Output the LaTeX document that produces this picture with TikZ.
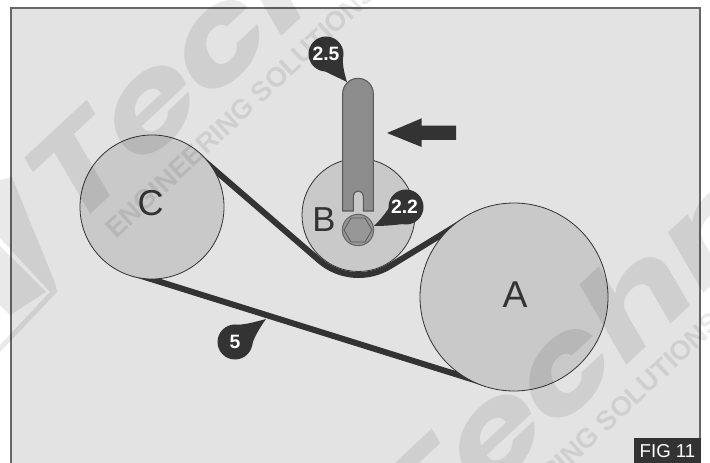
\documentclass[tikz,border=0pt]{standalone}
\usepackage{fontspec}
\setmainfont{Liberation Sans}
\newfontfamily\wmfont{Poppins}
\usetikzlibrary{calc}
\newcommand{\wmword}{\scalebox{1.28}[1]{Technical}}
\tikzset{
 pulley/.style={circle,draw=black!80,line width=0.6pt,fill=pulleygray,inner sep=0pt,text=darktext},
 belt/.style={draw=darktext,line width=4.5pt,line cap=butt},
 callout/.style={fill=darktext,draw=none},
 calltext/.style={text=white,font=\fontsize{14.5}{15}\selectfont\bfseries,inner sep=0pt},
 water/.style={black,opacity=0.085,inner sep=0pt,anchor=base west,rotate=43},
 wmbig/.style={water,font=\wmfont\fontsize{92}{92}\selectfont\bfseries\itshape},
 wmsmall/.style={water,font=\fontsize{20.5}{20.5}\selectfont\bfseries}
}
\definecolor{darktext}{HTML}{333333}
\definecolor{pulleygray}{HTML}{C9C9C9}
\definecolor{panel}{HTML}{E3E3E3}
\definecolor{levergray}{HTML}{8C8C8C}
\begin{document}
\begin{tikzpicture}[x=0.75pt,y=-0.75pt]
\useasboundingbox (0,0) rectangle (710,463);
\fill[white] (0,0) rectangle (710,463);
\fill[panel] (11,8.5) rectangle (700,470);
\draw[black!60,line width=1.5pt] (11,470) -- (11,8.5) -- (700,8.5) -- (700,470);
% belt
\coordinate (t1) at (197.1,154.8);
\coordinate (t2) at (319.3,260.4);
\coordinate (t3) at (389.8,266.2);
\coordinate (t4) at (466.6,219.3);
\coordinate (t5) at (131.4,272.9);
\coordinate (t6) at (486.9,383.9);
\path[belt] (t1) -- (t2) arc[start angle=130.84,end angle=58.6,radius=60] -- (t4);
\path[belt] (t5) -- (t6);
% pulleys
\node[pulley,minimum size=108pt] (pc) at (152,207) {};
\node[pulley,minimum size=141pt] (pa) at (514,297) {};
\node[pulley,minimum size=84.75pt] (pb) at (358.5,215) {};
\node[text=darktext,font=\fontsize{27}{27}\selectfont] (lc) at (150.5,203.5) {C};
\node[text=darktext,font=\fontsize{26}{26}\selectfont] (lb) at (324,220) {B};
\node[text=darktext,font=\fontsize{28}{28}\selectfont] (la) at (515,295) {A};
% lever
\draw[draw=black!65,line width=0.8pt,fill=levergray]
 (342.7,211) -- (342.7,93.6) arc[start angle=180,end angle=360,radius=15.3] -- (373.3,211) -- (363.3,211) -- (363.3,196) arc[start angle=0,end angle=-180,radius=5] -- (353.3,211) -- cycle;
% bolt
\node[circle,draw=black!60,line width=0.8pt,fill=levergray!90,minimum size=23.5pt,inner sep=0pt] (bolt) at (358,230) {};
\draw[black!65,line width=0.6pt] (372,230) -- (365,242) -- (351,242) -- (344,230) -- (351,218) -- (365,218) -- cycle;
% arrow
\fill[darktext] (387,133) -- (421.7,118.3) -- (421.7,125.7) -- (456,125.7) -- (456,140) -- (421.7,140) -- (421.7,147) -- cycle;
% callouts
\fill[callout] (326,54) circle[radius=17.5];
\fill[callout] (312,64) .. controls (325,72) and (335,76) .. (347,82) .. controls (344,72) and (342,65) .. (343,50) -- cycle;
\node[calltext] (c25) at (326,54) {2.5};
\fill[callout] (406,207) circle[radius=17.5];
\fill[callout] (396,193) .. controls (392,205) and (385,215) .. (374,226) .. controls (385,226) and (400,225) .. (415,222) -- cycle;
\node[calltext] (c22) at (404.5,207) {2.2};
\fill[callout] (235,342) circle[radius=17.5];
\fill[callout] (232,325) .. controls (245,325) and (255,322) .. (266,319) .. controls (258,330) and (252,342) .. (252,346) -- cycle;
\node[calltext] (c5) at (235,342) {5};
% fig label
\fill[darktext] (634,437.7) rectangle (701,463);
\node[text=white,font=\fontsize{14}{14}\selectfont,inner sep=0pt] (fig) at (667.5,451) {FIG 11};
% watermark
\node[wmbig] (wm1) at (72,232) {\wmword};
\node[wmbig] (wm2) at (417,561) {\wmword};
\node[wmsmall] (wm3) at (116,240) {ENGINEERING SOLUTIONS};
\node[wmsmall] (wm4) at (461,569) {ENGINEERING SOLUTIONS};
\fill[black,opacity=0.085,even odd rule] (0,180) -- (12,177) -- (55,283) -- (57,292) -- (0,352) -- (0,345) -- (50,292) -- (0,238) -- cycle
 (0,246) -- (46,292) -- (10,315) -- (0,305) -- cycle;
\end{tikzpicture}
\end{document}
